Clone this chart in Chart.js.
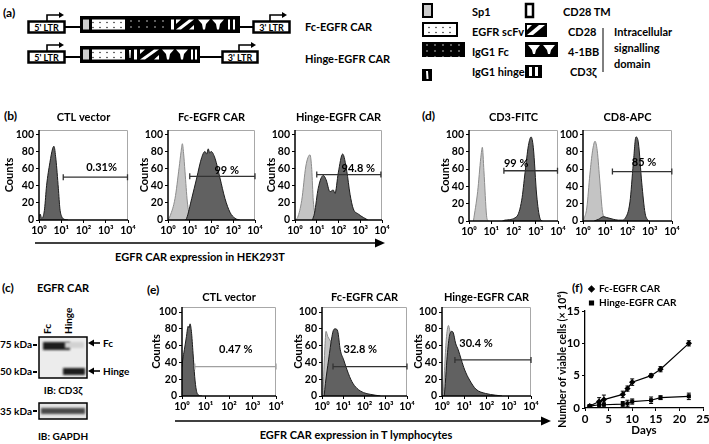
<!DOCTYPE html>
<html>
<head>
<meta charset="utf-8">
<title>EGFR CAR figure</title>
<script src="https://cdn.jsdelivr.net/npm/chart.js@4.4.0/dist/chart.umd.min.js"></script>
<style>
  body { margin: 0; background: #fff; width: 709px; height: 444px; overflow: hidden; position: relative; }
  canvas { position: absolute; z-index: 1; }
  svg { position: absolute; left: 0; top: 0; z-index: 0; }
  svg text { font-family: Lato, "Open Sans", sans-serif; font-weight: bold; fill: #000; }
</style>
</head>
<body>

<!-- static parts: construct schematic (a), blot (c), panel letters, axis arrows -->
<svg width="709" height="444" viewBox="0 0 709 444">
  <defs>
    <pattern id="pw" width="7" height="5" patternUnits="userSpaceOnUse"><rect width="7" height="5" fill="#fff"/><circle cx="2" cy="2.5" r="0.7" fill="#000"/></pattern>
    <pattern id="pb" width="8" height="6" patternUnits="userSpaceOnUse"><rect width="8" height="6" fill="#000"/><circle cx="3" cy="3" r="0.7" fill="#fff"/></pattern>
    <filter id="blur" x="-20%" y="-50%" width="140%" height="200%"><feGaussianBlur stdDeviation="1.1"/></filter>
  </defs>

  <text x="3" y="17" font-size="12">(a)</text>
  <!-- row 1 : Fc-EGFR CAR -->
  <rect x="28.5" y="21.5" width="36" height="11" fill="#fff" stroke="#000" stroke-width="2.5"/>
  <text x="46.5" y="30.5" font-size="9" text-anchor="middle">5' LTR</text>
  <path d="M47 21 V15 H59" fill="none" stroke="#000" stroke-width="1.6"/><polygon points="59,12 64,15 59,18" fill="#000"/>
  <line x1="65" y1="27" x2="80" y2="27" stroke="#000" stroke-width="2"/>
  <rect x="80" y="16" width="160" height="17" fill="#000"/>
  <rect x="83" y="19.5" width="6" height="10" fill="#ccc"/>
  <rect x="92" y="19.5" width="33" height="10" fill="url(#pw)"/>
  <rect x="127" y="19" width="43" height="11" fill="url(#pb)"/>
  <rect x="171" y="19.5" width="3" height="10" fill="#fff"/>
  <polygon points="176,29.5 181,29.5 194,19.5 189,19.5" fill="#fff"/><polygon points="176,19.5 181,19.5 176,24" fill="#fff"/><polygon points="194,29.5 189,29.5 194,25" fill="#fff"/>
  <polygon points="198,19.5 210,19.5 206,24 205,29.5 203,29.5 202,24" fill="#fff"/><polygon points="212,19.5 224,19.5 220,24 219,29.5 217,29.5 216,24" fill="#fff"/>
  <rect x="228" y="19.5" width="2" height="10" fill="#fff"/><rect x="233" y="19.5" width="2" height="10" fill="#fff"/>
  <line x1="240" y1="27" x2="253" y2="27" stroke="#000" stroke-width="2"/>
  <rect x="253.5" y="21.5" width="36" height="11" fill="#fff" stroke="#000" stroke-width="2.5"/>
  <text x="271.5" y="30.5" font-size="9" text-anchor="middle">3' LTR</text>
  <path d="M270 21 V15 H282" fill="none" stroke="#000" stroke-width="1.6"/><polygon points="282,12 287,15 282,18" fill="#000"/>
  <text x="305" y="31" font-size="11">Fc-EGFR CAR</text>
  <!-- row 2 : Hinge-EGFR CAR -->
  <rect x="28.5" y="51.5" width="36" height="11" fill="#fff" stroke="#000" stroke-width="2.5"/>
  <text x="46.5" y="60.5" font-size="9" text-anchor="middle">5' LTR</text>
  <path d="M47 51 V45 H59" fill="none" stroke="#000" stroke-width="1.6"/><polygon points="59,42 64,45 59,48" fill="#000"/>
  <line x1="65" y1="57" x2="80" y2="57" stroke="#000" stroke-width="2"/>
  <rect x="80" y="46" width="120" height="17" fill="#000"/>
  <rect x="83" y="49.5" width="6" height="10" fill="#ccc"/>
  <rect x="92" y="49.5" width="33" height="10" fill="url(#pw)"/>
  <polygon points="129,50 131,50 130.5,58 129.5,58" fill="#fff"/>
  <rect x="134" y="49.5" width="3" height="10" fill="#fff"/>
  <polygon points="140,59.5 145,59.5 159,49.5 154,49.5" fill="#fff"/><polygon points="140,49.5 145,49.5 140,54" fill="#fff"/><polygon points="159,59.5 154,59.5 159,55" fill="#fff"/>
  <polygon points="162,49.5 174,49.5 170,54 169,59.5 167,59.5 166,54" fill="#fff"/><polygon points="176,49.5 188,49.5 184,54 183,59.5 181,59.5 180,54" fill="#fff"/>
  <rect x="191" y="49.5" width="2" height="10" fill="#fff"/><rect x="195" y="49.5" width="2" height="10" fill="#fff"/>
  <line x1="200" y1="57" x2="222" y2="57" stroke="#000" stroke-width="2"/>
  <rect x="222.5" y="51.5" width="35" height="11" fill="#fff" stroke="#000" stroke-width="2.5"/>
  <text x="240" y="60.5" font-size="9" text-anchor="middle">3' LTR</text>
  <path d="M239 51 V45 H251" fill="none" stroke="#000" stroke-width="1.6"/><polygon points="251,42 256,45 251,48" fill="#000"/>
  <text x="305" y="63" font-size="11">Hinge-EGFR CAR</text>

  <!-- legend of (a) -->
  <rect x="423" y="4" width="9" height="13" fill="#ccc" stroke="#000" stroke-width="2"/>
  <rect x="423" y="23" width="34" height="13" fill="url(#pw)" stroke="#000" stroke-width="2"/>
  <rect x="422" y="42" width="43" height="15" fill="url(#pb)"/>
  <rect x="422" y="69" width="10" height="12" fill="#000"/><polygon points="426,71 428,71 428.5,79 426.5,79" fill="#fff"/>
  <text x="472" y="16" font-size="11">Sp1</text>
  <text x="472" y="36" font-size="11">EGFR scFv</text>
  <text x="472" y="56" font-size="11">IgG1 Fc</text>
  <text x="472" y="76" font-size="11">IgG1 hinge</text>
  <rect x="526" y="4" width="7" height="13" fill="#fff" stroke="#000" stroke-width="2.5"/>
  <rect x="525" y="23" width="22" height="14" fill="#000"/><polygon points="527,35 533,35 545,25 539,25" fill="#fff"/><polygon points="527,25 532,25 527,30" fill="#fff"/>
  <rect x="525" y="42" width="33" height="15" fill="#000"/><polygon points="528,45 540,45 536,50 535,54 533,54 532,50" fill="#fff"/><polygon points="543,45 555,45 551,50 550,54 548,54 547,50" fill="#fff"/>
  <rect x="525" y="65" width="17" height="13" fill="#000"/><rect x="529" y="67" width="3" height="9" fill="#fff"/><rect x="535" y="67" width="3" height="9" fill="#fff"/>
  <text x="563" y="16" font-size="11">CD28 TM</text>
  <text x="568" y="36" font-size="11">CD28</text>
  <text x="568" y="56" font-size="11">4-1BB</text>
  <text x="570" y="76" font-size="11">CD3ζ</text>
  <line x1="603" y1="28" x2="603" y2="72" stroke="#000" stroke-width="1"/>
  <text x="614" y="36" font-size="11">Intracellular</text>
  <text x="614" y="52" font-size="11">signalling</text>
  <text x="614" y="68" font-size="11">domain</text>

  <!-- panel letters -->
  <text x="4" y="120" font-size="12">(b)</text>
  <text x="422" y="120" font-size="12">(d)</text>
  <text x="2" y="292" font-size="12">(c)</text>
  <text x="147" y="294" font-size="12">(e)</text>
  <text x="572" y="292" font-size="12">(f)</text>

  <!-- flow axis arrows -->
  <line x1="35" y1="243" x2="377" y2="243" stroke="#000" stroke-width="1.6"/><polygon points="375,238.5 385,243 375,247.5" fill="#000"/>
  <text x="200" y="261" font-size="11" text-anchor="middle">EGFR CAR expression in HEK293T</text>
  <line x1="175" y1="421" x2="543" y2="421" stroke="#000" stroke-width="1.6"/><polygon points="541,416.5 551,421 541,425.5" fill="#000"/>
  <text x="356" y="439" font-size="11" text-anchor="middle">EGFR CAR expression in T lymphocytes</text>

  <!-- western blot (c) -->
  <text x="37" y="292" font-size="11">EGFR CAR</text>
  <text transform="translate(51,334) rotate(-90)" font-size="10">Fc</text>
  <text transform="translate(72,334) rotate(-90)" font-size="10">Hinge</text>
  <rect x="39" y="337" width="48" height="41" fill="#ececec" stroke="#000" stroke-width="1.5"/>
  <rect x="43" y="342" width="27" height="8" fill="#1e1e1e" filter="url(#blur)"/>
  <rect x="65" y="342" width="19" height="6" fill="#d2d2d2" filter="url(#blur)"/>
  <rect x="63" y="368" width="22" height="7" fill="#1e1e1e" filter="url(#blur)"/>
  <text x="32" y="348" font-size="10" text-anchor="end">75 kDa</text><rect x="33" y="344" width="4" height="2" fill="#000"/>
  <text x="32" y="375" font-size="10" text-anchor="end">50 kDa</text><rect x="33" y="371" width="4" height="2" fill="#000"/>
  <line x1="93" y1="343" x2="100" y2="343" stroke="#000" stroke-width="1.6"/><polygon points="94,339.5 88,343 94,346.5" fill="#000"/>
  <text x="103" y="347" font-size="10">Fc</text>
  <line x1="93" y1="371" x2="100" y2="371" stroke="#000" stroke-width="1.6"/><polygon points="94,367.5 88,371 94,374.5" fill="#000"/>
  <text x="103" y="375" font-size="10">Hinge</text>
  <text x="63" y="394" font-size="10" text-anchor="middle">IB: CD3ζ</text>
  <rect x="39" y="403" width="48" height="16" fill="#e4e4e4" stroke="#000" stroke-width="1.5"/>
  <rect x="41" y="408" width="44" height="6" fill="#4a4a4a" filter="url(#blur)"/>
  <text x="32" y="415" font-size="10" text-anchor="end">35 kDa</text><rect x="33" y="410" width="4" height="2" fill="#000"/>
  <text x="63" y="440" font-size="10" text-anchor="middle">IB: GAPDH</text>
</svg>

<canvas id="hekCtl"></canvas>
<canvas id="hekFc"></canvas>
<canvas id="hekHg"></canvas>
<canvas id="cd3"></canvas>
<canvas id="cd8"></canvas>
<canvas id="tCtl"></canvas>
<canvas id="tFc"></canvas>
<canvas id="tHg"></canvas>
<canvas id="growth"></canvas>

<script>
// ---- flow histogram data (fluorescence value, counts) ----
const decadeTicks = [1, 10, 100, 1000, 10000];
const decadeLabels = ['10⁰', '10¹', '10²', '10³', '10⁴'];
const countTicks = [0, 20, 40, 60, 80, 100];

// (b) HEK293T
const hekCtlX = [1, 1.12, 1.32, 1.48, 1.78, 2.19, 3.09, 4.07, 4.68, 5.75, 7.41, 8.71, 10.5, 13.2, 20];
const hekCtlY = [3, 7, 2, 3, 13, 40, 67, 83, 86, 71, 37, 13, 4, 1, 0];
const hekFcIsoX = [1, 1.26, 2.1, 3.24, 4.0, 4.57, 5.2, 6.03, 7.76, 10.2, 12.6];
const hekFcIsoY = [0, 5, 25, 61, 80, 89, 78, 57, 21, 3, 0];
const hekFcX = [6.3, 7.2, 12.3, 20.9, 35.5, 50, 60, 70.8, 83, 95.5, 145, 245, 417, 708, 1200, 2000];
const hekFcY = [0, 2, 25, 49, 73, 80, 77, 83, 78, 80, 72, 49, 25, 9, 2, 0];
const hekHgIsoX = [1, 1.32, 2.04, 3.16, 4.9, 5.9, 6.9, 9.3, 11.2];
const hekHgIsoY = [0, 3, 23, 63, 76, 59, 23, 3, 0];
const hekHgX = [6.3, 7.9, 11.7, 20, 26.9, 40.7, 57.5, 69.2, 97.7, 155, 240, 339, 479, 813, 1380, 2240];
const hekHgY = [0, 8, 37, 52, 47, 33, 35, 31, 55, 77, 57, 30, 13, 7, 3, 0];

// (d) T cell markers
const cd3IsoX = [1.58, 2.45, 3.39, 3.98, 4.68, 6.17, 7.24];
const cd3IsoY = [0, 34, 73, 85, 58, 6, 0];
const cd3X = [31.6, 41.7, 138, 234, 331, 468, 617, 776, 1100, 1550, 2000];
const cd3Y = [0, 1, 5, 24, 56, 87, 97, 85, 30, 3, 0];
const cd8IsoX = [1, 1.12, 1.48, 2.04, 2.69, 3.47, 4.37, 5.75, 7.59, 9.77, 15.8, 25.1];
const cd8IsoY = [0, 3, 15, 54, 81, 92, 81, 45, 10, 4, 2, 0];
const cd8X = [3.16, 5.01, 8.32, 11.7, 22.9, 38.9, 56.2, 77.6, 129, 182, 240, 309, 437, 617, 871];
const cd8Y = [0, 2, 5, 4, 2, 1, 1, 3, 22, 66, 97, 90, 44, 9, 0];

// (e) T lymphocytes
const tCtlX = [1, 1.07, 1.26, 1.55, 1.82, 2.0, 2.19, 2.51, 2.95, 3.47, 4.07, 5.13, 7.08];
const tCtlY = [35, 43, 55, 71, 83, 81, 86, 77, 51, 23, 7, 1, 0];
const tFcIsoX = [1, 1.12, 1.2, 1.35, 1.55, 1.86, 2.29, 3.16, 5.01, 7.94, 12.6];
const tFcIsoY = [0, 1, 23, 55, 77, 71, 67, 60, 40, 12, 0];
const tFcX = [1.26, 1.45, 2.04, 2.95, 3.55, 4.27, 5.5, 7.24, 10.5, 15.1, 25.7, 44.7, 91.2, 186, 562];
const tFcY = [0, 15, 43, 71, 79, 80, 77, 55, 43, 31, 17, 9, 4, 2, 0];
const tHgIsoX = [1, 1.1, 1.32, 1.55, 1.95, 2.29, 3.16, 5.01, 7.94, 12.6];
const tHgIsoY = [0, 1, 35, 67, 84, 77, 65, 40, 12, 0];
const tHgX = [1.26, 1.41, 1.66, 2.14, 2.75, 3.24, 4.07, 5.37, 7.41, 10.5, 17.4, 33.9, 91.2, 251, 501];
const tHgY = [0, 15, 43, 71, 77, 75, 63, 55, 43, 31, 19, 8, 3, 1, 0];

// gates, in panel order b1 b2 b3 d1 d2 e1 e2 e3
const gateText  = ['0.31%', '99 %', '94.8 %', '99 %', '85 %', '0.47 %', '32.8 %', '30.4 %'];
const gateFrom  = [12.3, 10, 10, 37, 21, 3.5, 3.3, 3.8];
const gateTo    = [9500, 10000, 8900, 9500, 9800, 10000, 10000, 10000];
const gateY     = [50, 51, 53, 58, 57, 35, 35, 43];
const gateTextX = [650, 500, 813, 132, 550, 195, 63, 34];
const gateTextY = [61, 58, 60, 66, 68, 56, 55, 63];

// (f) growth curve
const days = [1, 3, 4, 8, 9, 10, 14, 16, 22];
const fcCells = [0.3, 1.0, 1.3, 2.1, 3.0, 4.0, 5.0, 6.0, 10.0];
const fcErr = [0.2, 0.6, 0.7, 0.5, 0.4, 0.5, 0.3, 0.4, 0.4];
const hingeCells = [0.3, 0.5, 0.5, 0.6, 0.7, 1.0, 1.2, 1.6, 1.8];
const hingeErr = [0.2, 0.3, 0.4, 0.4, 0.5, 0.4, 0.5, 0.3, 0.5];

Chart.defaults.font.family = 'Lato, "Open Sans", sans-serif';
Chart.defaults.font.weight = 'bold';
Chart.defaults.color = '#000';

const DARK = { fill: '#616161', line: '#1c1c1c' };
const LIGHT = { fill: '#c4c4c4', line: '#8c8c8c' };

// frame + gate bar for flow plots
const flowPlugin = {
  id: 'flow',
  afterDatasetsDraw(chart, args, o) {
    const { ctx, chartArea: a, scales: { x, y } } = chart;
    ctx.save();
    ctx.strokeStyle = '#a8a8a8'; ctx.lineWidth = 1;
    ctx.beginPath(); ctx.moveTo(a.left, a.top + 0.5); ctx.lineTo(a.right - 0.5, a.top + 0.5); ctx.lineTo(a.right - 0.5, a.bottom); ctx.stroke();
    ctx.strokeStyle = '#000'; ctx.lineWidth = 1.5;
    ctx.beginPath(); ctx.moveTo(a.left, a.top); ctx.lineTo(a.left, a.bottom); ctx.lineTo(a.right, a.bottom); ctx.stroke();
    const i = o.idx;
    const x1 = x.getPixelForValue(gateFrom[i]), x2 = x.getPixelForValue(gateTo[i]), yy = y.getPixelForValue(gateY[i]);
    ctx.strokeStyle = o.color; ctx.lineWidth = 1.3;
    ctx.beginPath();
    ctx.moveTo(x1, yy); ctx.lineTo(x2, yy);
    ctx.moveTo(x1, yy - 3); ctx.lineTo(x1, yy + 3);
    ctx.moveTo(x2, yy - 3); ctx.lineTo(x2, yy + 3);
    ctx.stroke();
    ctx.fillStyle = '#000'; ctx.font = 'bold 11px Lato, "Open Sans", sans-serif';
    ctx.textAlign = 'center'; ctx.textBaseline = 'middle';
    ctx.fillText(gateText[i], x.getPixelForValue(gateTextX[i]), y.getPixelForValue(gateTextY[i]));
    ctx.restore();
  }
};

function series(xs, ys, st) {
  return {
    data: xs.map((v, i) => ({ x: v, y: ys[i] })),
    fill: 'origin', backgroundColor: st.fill, borderColor: st.line, borderWidth: 1,
    pointRadius: 0, cubicInterpolationMode: 'monotone'
  };
}

// p: chart area box l r t b, axisW, titleH, ymax
function flowChart(id, p) {
  const cv = document.getElementById(id);
  const W = p.r - p.l + p.axisW + 12, H = p.b - p.t + p.titleH + 17;
  cv.width = W; cv.height = H;
  cv.style.width = W + 'px'; cv.style.height = H + 'px';
  cv.style.left = (p.l - p.axisW) + 'px'; cv.style.top = (p.t - p.titleH) + 'px';
  new Chart(cv, {
    type: 'line',
    data: { datasets: p.sets },
    options: {
      responsive: false, animation: false, events: [],
      layout: { padding: { right: 12 } },
      plugins: {
        legend: { display: false }, tooltip: { enabled: false },
        title: { display: true, text: p.title, fullSize: false, font: { size: 11, weight: 'bold' }, padding: { top: 3, bottom: p.titleH - 16.2 } },
        flow: { idx: p.gate, color: p.gateColor || '#333' }
      },
      scales: {
        x: {
          type: 'logarithmic', min: 1, max: 10000,
          afterBuildTicks: s => { s.ticks = decadeTicks.map(v => ({ value: v })); },
          afterFit: s => { s.height = 17; s.paddingLeft = 0; s.paddingRight = 0; },
          ticks: { callback: v => decadeLabels[decadeTicks.indexOf(v)], autoSkip: false, maxRotation: 0, padding: 1, font: { size: 10.5, weight: 'bold' } },
          grid: { drawOnChartArea: false, tickLength: 3, color: '#000' },
          border: { display: false }
        },
        y: {
          min: 0, max: p.ymax,
          afterBuildTicks: s => { s.ticks = countTicks.map(v => ({ value: v })); },
          afterFit: s => { s.width = p.axisW; s.paddingTop = 0; s.paddingBottom = 0; },
          ticks: { padding: 2, font: { size: 10.5, weight: 'bold' } },
          title: { display: p.counts, text: 'Counts', padding: 0, font: { size: 11, weight: 'bold' } },
          grid: { drawOnChartArea: false, tickLength: 3, color: '#000' },
          border: { display: false }
        }
      }
    },
    plugins: [flowPlugin]
  });
}

flowChart('hekCtl', { l: 39, r: 128, t: 130, b: 220, axisW: 36, titleH: 22, ymax: 105, counts: true, title: 'CTL vector', gate: 0,
  sets: [series(hekCtlX, hekCtlY, DARK)] });
flowChart('hekFc', { l: 168, r: 255, t: 130, b: 220, axisW: 30, titleH: 22, ymax: 105, counts: true, title: 'Fc-EGFR CAR', gate: 1,
  sets: [series(hekFcX, hekFcY, DARK), series(hekFcIsoX, hekFcIsoY, LIGHT)] });
flowChart('hekHg', { l: 295, r: 382, t: 130, b: 220, axisW: 30, titleH: 22, ymax: 105, counts: true, title: 'Hinge-EGFR CAR', gate: 2,
  sets: [series(hekHgX, hekHgY, DARK), series(hekHgIsoX, hekHgIsoY, LIGHT)] });
flowChart('cd3', { l: 469, r: 558, t: 130, b: 221, axisW: 30, titleH: 22, ymax: 105, counts: true, title: 'CD3-FITC', gate: 3,
  sets: [series(cd3X, cd3Y, DARK), series(cd3IsoX, cd3IsoY, LIGHT)] });
flowChart('cd8', { l: 583, r: 672, t: 130, b: 221, axisW: 24, titleH: 22, ymax: 105, counts: false, title: 'CD8-APC', gate: 4,
  sets: [series(cd8X, cd8Y, DARK), series(cd8IsoX, cd8IsoY, LIGHT)] });
flowChart('tCtl', { l: 182, r: 276, t: 307, b: 396, axisW: 32, titleH: 19, ymax: 106, counts: true, title: 'CTL vector', gate: 5, gateColor: '#a0a0a0',
  sets: [series(tCtlX, tCtlY, DARK)] });
flowChart('tFc', { l: 322, r: 407, t: 307, b: 396, axisW: 30, titleH: 19, ymax: 106, counts: true, title: 'Fc-EGFR CAR', gate: 6,
  sets: [series(tFcX, tFcY, DARK), series(tFcIsoX, tFcIsoY, LIGHT)] });
flowChart('tHg', { l: 442, r: 531, t: 307, b: 396, axisW: 30, titleH: 19, ymax: 106, counts: true, title: 'Hinge-EGFR CAR', gate: 7,
  sets: [series(tHgX, tHgY, DARK), series(tHgIsoX, tHgIsoY, LIGHT)] });

// ---- (f) growth curve ----
const errPlugin = {
  id: 'errbars',
  afterDatasetsDraw(chart) {
    const { ctx, scales: { x, y } } = chart;
    ctx.save(); ctx.strokeStyle = '#000'; ctx.lineWidth = 1;
    chart.data.datasets.forEach(ds => {
      ds.data.forEach((pt, i) => {
        const px = x.getPixelForValue(pt.x);
        const hi = y.getPixelForValue(pt.y + ds.errors[i]), lo = y.getPixelForValue(Math.max(0, pt.y - ds.errors[i]));
        ctx.beginPath();
        ctx.moveTo(px, hi); ctx.lineTo(px, lo);
        ctx.moveTo(px - 2, hi); ctx.lineTo(px + 2, hi);
        ctx.moveTo(px - 2, lo); ctx.lineTo(px + 2, lo);
        ctx.stroke();
      });
    });
    ctx.restore();
  }
};

const gcv = document.getElementById('growth');
gcv.width = 153; gcv.height = 164;
gcv.style.width = '153px'; gcv.style.height = '164px';
gcv.style.left = '556px'; gcv.style.top = '280px';
new Chart(gcv, {
  type: 'line',
  data: {
    datasets: [
      { label: 'Fc-EGFR CAR', data: days.map((d, i) => ({ x: d, y: fcCells[i] })), errors: fcErr,
        borderColor: '#000', backgroundColor: '#000', borderWidth: 1.2, pointStyle: 'rectRot', pointRadius: 2.3 },
      { label: 'Hinge-EGFR CAR', data: days.map((d, i) => ({ x: d, y: hingeCells[i] })), errors: hingeErr,
        borderColor: '#000', backgroundColor: '#000', borderWidth: 1.2, pointStyle: 'rect', pointRadius: 2 }
    ]
  },
  options: {
    responsive: false, animation: false, events: [],
    layout: { padding: { top: 31, right: 6 } },
    plugins: {
      tooltip: { enabled: false },
      legend: { position: 'chartArea', align: 'start',
        labels: { usePointStyle: true, boxWidth: 5, boxHeight: 4, padding: 4, font: { size: 10, weight: 'bold' } } }
    },
    scales: {
      x: {
        type: 'linear', min: 0, max: 25,
        afterFit: s => { s.height = 36; s.paddingLeft = 0; s.paddingRight = 0; },
        ticks: { stepSize: 5, padding: 1, maxRotation: 0, font: { size: 11.5, weight: 'bold' } },
        title: { display: true, text: 'Days', padding: { top: 0, bottom: 7 }, font: { size: 11.5, weight: 'bold' } },
        grid: { drawOnChartArea: false, tickLength: 3, color: '#000' },
        border: { color: '#000', width: 1.3 }
      },
      y: {
        min: 0, max: 15,
        afterFit: s => { s.width = 29; s.paddingTop = 0; s.paddingBottom = 0; },
        ticks: { stepSize: 5, padding: 2, font: { size: 11.5, weight: 'bold' } },
        title: { display: true, text: 'Number of viable cells (× 10⁶)', padding: 0, font: { size: 10.5, weight: 'bold' } },
        grid: { drawOnChartArea: false, tickLength: 3, color: '#000' },
        border: { color: '#000', width: 1.3 }
      }
    }
  },
  plugins: [errPlugin]
});
</script>
</body>
</html>
